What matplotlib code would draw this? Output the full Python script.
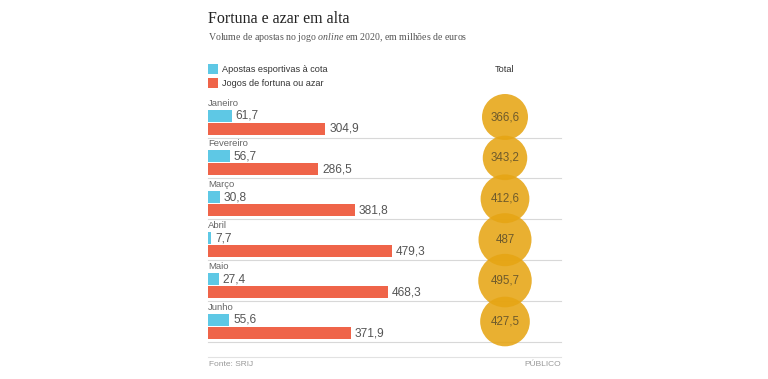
import matplotlib
matplotlib.use("Agg")
import matplotlib.pyplot as plt

plt.rcParams["mathtext.fontset"] = "custom"
plt.rcParams["mathtext.it"] = "Liberation Serif:italic"
plt.rcParams["mathtext.rm"] = "Liberation Serif"

meses = ["Janeiro", "Fevereiro", "Março", "Abril", "Maio", "Junho"]
apostas = [61.7, 56.7, 30.8, 7.7, 27.4, 55.6]
fortuna = [304.9, 286.5, 381.8, 479.3, 468.3, 371.9]
total = [366.6, 343.2, 412.6, 487, 495.7, 427.5]

BLUE = "#5ec8e5"
RED = "#ef6449"
GOLD = "#e6a514"
GREY = "#555555"

W, H = 768, 379
PX = 0.384          # pixels per million euros
X0 = 208            # left edge of bars (px)
ROW0 = 117          # centre of first row (px)
PITCH = 40.9
BAR_H = 12

fmt = lambda v: ("%g" % v).replace(".", ",")

fig = plt.figure(figsize=(W / 100, H / 100), dpi=100)
ax = fig.add_axes([0, 0, 1, 1])
ax.set_xlim(-X0 / PX, (W - X0) / PX)
ax.set_ylim(H, 0)
ax.axis("off")

sans = "Liberation Sans"
serif = "Liberation Serif"

rows = [ROW0 + PITCH * i for i in range(len(meses))]
x_total = (505 - X0) / PX
x_end = (561 - X0) / PX

for i, c in enumerate(rows):
    ax.barh(c - 1.5, apostas[i], height=BAR_H, color=BLUE, zorder=2)
    ax.barh(c + 11.5, fortuna[i], height=BAR_H, color=RED, zorder=2)
    ax.text(apostas[i] + 4 / PX, c - 1.5, fmt(apostas[i]), va="center", ha="left",
            fontsize=8.6, color=GREY, family=sans)
    ax.text(fortuna[i] + 4 / PX, c + 11.5, fmt(fortuna[i]), va="center", ha="left",
            fontsize=8.6, color=GREY, family=sans)
    ax.text(0, c - 14, meses[i], va="center", ha="left", fontsize=6.8,
            color="#666666", family=sans)
    ax.plot([0, x_end], [c + 20.5, c + 20.5], color="#d8d8d8", lw=0.8, zorder=1)

sizes = [t * 2.99 for t in total]
ax.scatter([x_total] * len(total), rows, s=sizes, color=GOLD, alpha=0.88,
           edgecolors="none", zorder=3)
for i, c in enumerate(rows):
    ax.text(x_total, c, fmt(total[i]), va="center", ha="center", fontsize=8.3,
            color="#6e5a2c", family=sans, zorder=4)

# legend
ax.barh(69, 10 / PX, height=10, left=0, color=BLUE)
ax.barh(83, 10 / PX, height=10, left=0, color=RED)
ax.text(14 / PX, 69, "Apostas esportivas à cota", va="center", fontsize=6.6,
        color="#333333", family=sans)
ax.text(14 / PX, 83, "Jogos de fortuna ou azar", va="center", fontsize=6.6,
        color="#333333", family=sans)
ax.text(x_total, 69, "Total", va="center", ha="center", fontsize=6.6,
        color="#333333", family=sans)

# footer
ax.plot([0, x_end], [357, 357], color="#e2e2e2", lw=0.8)
ax.text(1 / PX, 364, "Fonte: SRIJ", va="center", fontsize=6, color="#999999", family=sans)
ax.text(x_end, 364, "PÚBLICO", va="center", ha="right", fontsize=6, color="#999999", family=sans)

# titles
ax.text(0, 19, "Fortuna e azar em alta", va="center", ha="left", fontsize=11.5,
        color="#222222", family=serif)
ax.text(0, 38, "Volume de apostas no jogo $\\it{online}$ em 2020, em milhões de euros",
        va="center", ha="left", fontsize=7.1, color="#555555", family=serif)

fig.savefig("out.png", dpi=100)
